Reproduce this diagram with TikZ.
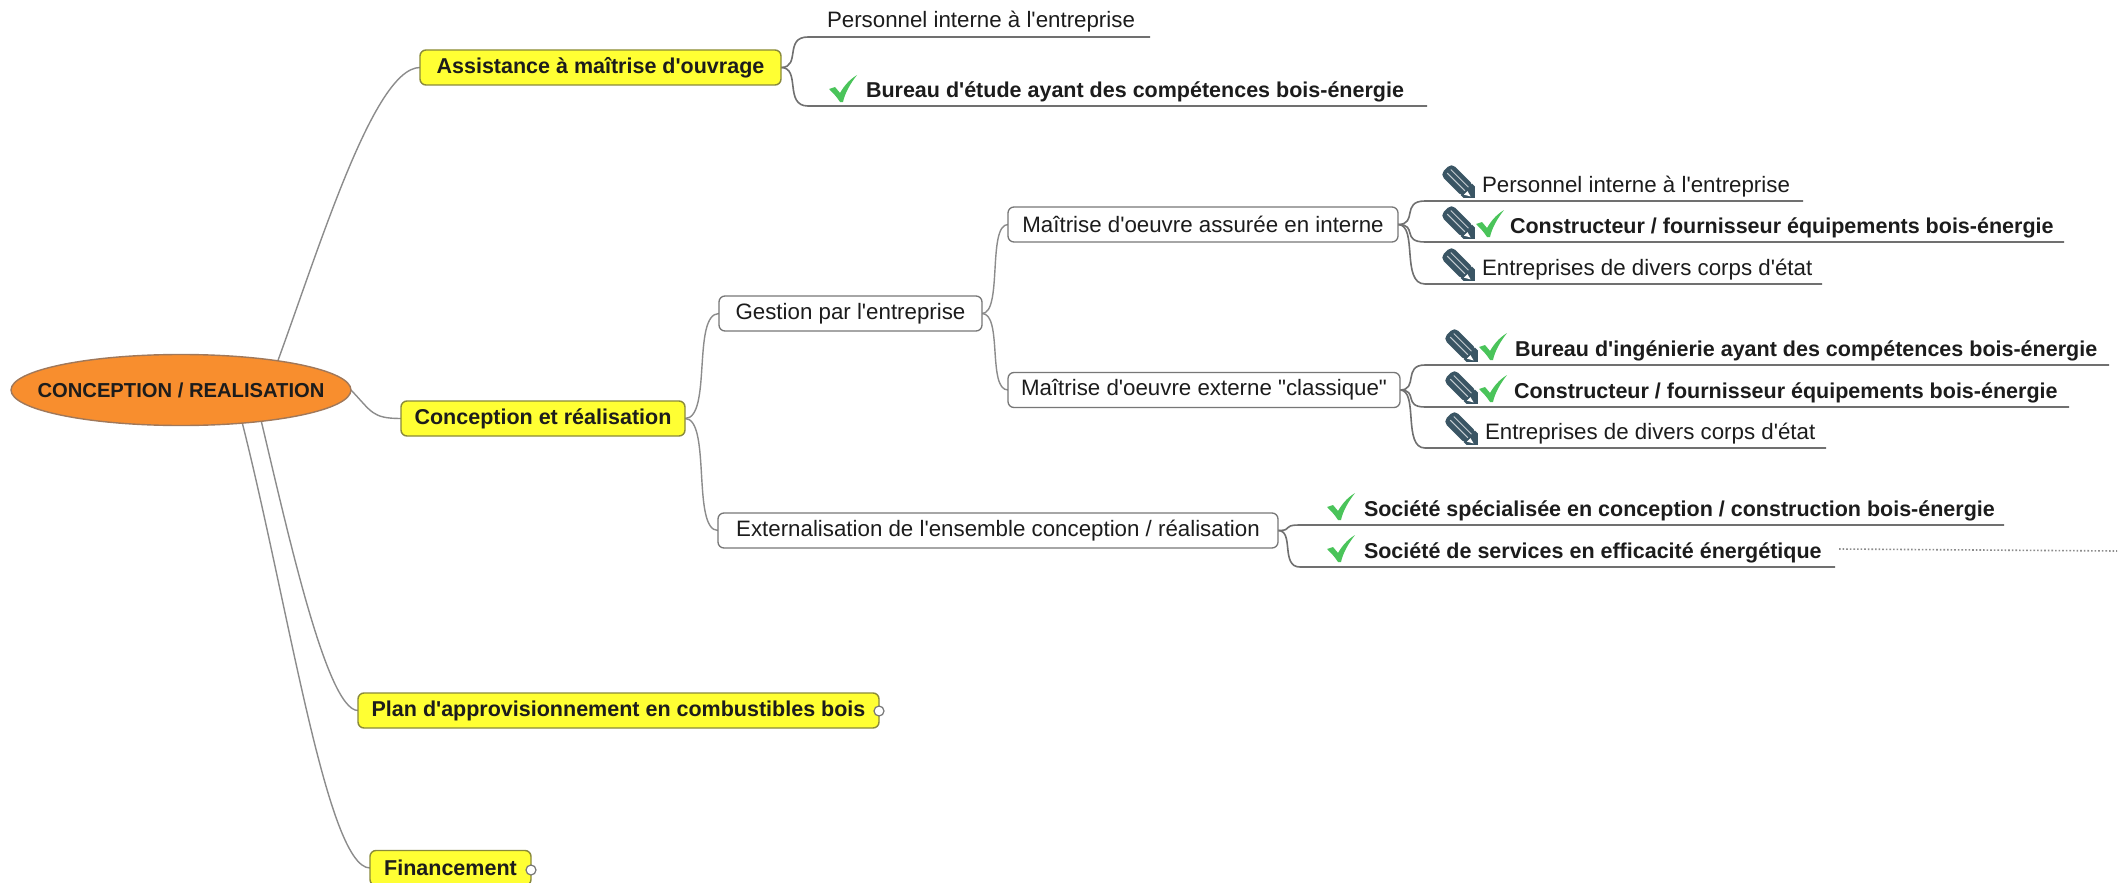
\documentclass[tikz,border=0pt]{standalone}
\usepackage{fontspec}
\newfontfamily\arl{Liberation Sans}
\usetikzlibrary{calc,backgrounds,shapes.geometric}
\definecolor{ybf}{HTML}{FFFF33}
\definecolor{ybd}{HTML}{8A8A3A}
\definecolor{orf}{HTML}{F88E2E}
\definecolor{ord}{HTML}{A0785A}
\definecolor{cnn}{HTML}{8C8C8C}
\definecolor{uln}{HTML}{707070}
\definecolor{gbd}{HTML}{777777}
\definecolor{grn}{HTML}{4AC45A}
\definecolor{clp}{HTML}{3A5564}
\definecolor{txt}{HTML}{1C1C1C}
\tikzset{
  x=1pt,y=-1pt,
  regfont/.style={font=\arl\fontsize{22.3}{24}\selectfont,text=txt},
  bldfont/.style={font=\arl\fontsize{21.5}{24}\selectfont\bfseries,text=txt},
  ybox/.style={bldfont,draw=ybd,fill=ybf,rounded corners=6pt,line width=1.4pt,minimum height=35pt,inner sep=0pt,outer sep=0pt},
  wbox/.style={regfont,draw=gbd,fill=white,rounded corners=6pt,line width=1.3pt,minimum height=35pt,inner sep=0pt,outer sep=0pt},
  rootnode/.style={ellipse,font=\arl\fontsize{20.2}{24}\selectfont\bfseries,text=txt,draw=ord,fill=orf,line width=1.4pt,minimum width=340pt,minimum height=71pt,inner sep=0pt,outer sep=0pt},
  leafnode/.style={inner xsep=0pt,inner ysep=5pt,outer sep=0pt,text height=18pt,text depth=4pt,anchor=south west},
  fold/.style={circle,draw=gbd,fill=white,line width=1.2pt,minimum size=10pt,inner sep=0pt,outer sep=0pt},
  cnx/.style={draw=cnn,line width=1.4pt},
  ula/.style={draw=uln,line width=1.6pt},
  chk/.pic={\fill[grn] (-14,0) -- (-8,-2) -- (-3,4) .. controls (1,-3) and (6,-9) .. (14,-14) .. controls (7,-5) and (2,4) .. (0,13) -- (-3,13) .. controls (-6,8) and (-10,4) .. (-14,0) -- cycle;},
  clip/.pic={\begin{scope}[rotate=-45]
     \fill[clp,rounded corners=5pt] (-20,-8) -- (12,-8) -- (12,8) -- (-20,8) -- cycle;
     \fill[clp] (9,-8) -- (13,-8) -- (21,0) -- (13,8) -- (9,8) -- cycle;
     \fill[white] (11,0.5) -- (17,2) -- (11,5.5) -- cycle;
     \draw[white!70!clp,line width=1pt] (-16,-3) -- (9,-3);
     \draw[white!70!clp,line width=1pt] (-16,2) -- (9,2);
  \end{scope}},
}
% name, start x, end x, line y, text x, text
\newcommand{\leafrow}[6]{%
  \pgfmathsetlengthmacro{\lw}{#3-#2}%
  \pgfmathsetlengthmacro{\lp}{#5-#2}%
  \node[leafnode,text width=\lw] (#1) at (#2,#4) {\noindent\hspace*{\lp}\mbox{\spaceskip=0pt\relax\xspaceskip=0pt\relax #6}};%
}
\newcommand{\regl}{\arl\fontsize{22.3}{24}\selectfont\color{txt}}
\newcommand{\bldl}{\arl\fontsize{21.5}{24}\selectfont\bfseries\color{txt}}
\newcommand{\cnnct}[2]{%
  \draw[cnx] let \p1=(#1),\p2=(#2),\n1={\x2-\x1} in
    (\p1) .. controls (\x1+0.8*\n1,\y1) and (\x1+0.2*\n1,\y2) .. (\p2);%
}
\newcommand{\leafcnx}[2]{%
  \draw[ula] let \p1=(#1.east),\p2=(#2.south west),\n1={\x2-\x1} in
    (\p1) .. controls (\x1+0.75*\n1,\y1) and (\x1+0.1*\n1,\y2) .. (\p2) -- (#2.south east);%
}
\begin{document}
\begin{tikzpicture}
\useasboundingbox (0,0) rectangle (2121,883);

\node[rootnode] (root) at (181,390) {\makebox[200pt][c]{CONCEPTION / REALISATION}};
\coordinate (rsa) at (265,395);
\coordinate (rsp) at (255,395);
\coordinate (rsf) at (235,395);

\node[ybox,minimum width=361pt] (a) at (600.5,67.5) {Assistance à maîtrise d'ouvrage};
\node[ybox,minimum width=284pt] (cr) at (543,418.5) {Conception et réalisation};
\node[ybox,minimum width=521pt] (plan) at (618.5,710.5) {Plan d'approvisionnement en combustibles bois};
\node[ybox,minimum width=161pt] (fin) at (450.5,868) {Financement};
\node[fold] (planf) at (879,711) {};
\node[fold] (finf) at (531,870) {};

\node[wbox,minimum width=263pt] (ges) at (850.5,313.5) {Gestion par l'entreprise};
\node[wbox,minimum width=390pt] (mint) at (1203,224.5) {Maîtrise d'oeuvre assurée en interne};
\node[wbox,minimum width=392pt] (mext) at (1204,390) {Maîtrise d'oeuvre externe "classique"};
\node[wbox,minimum width=560pt] (ext) at (998,530.5) {Externalisation de l'ensemble conception / réalisation};

\leafrow{la1}{808}{1150}{37}{827}{\regl Personnel interne à l'entreprise}
\leafrow{la2}{808}{1427}{106}{866}{\bldl Bureau d'étude ayant des compétences bois-énergie}
\leafrow{li1}{1425}{1803}{201}{1482}{\regl Personnel interne à l'entreprise}
\leafrow{li2}{1425}{2064}{242}{1510}{\bldl Constructeur / fournisseur équipements bois-énergie}
\leafrow{li3}{1425}{1822}{284}{1482}{\regl Entreprises de divers corps d'état}
\leafrow{le1}{1425}{2109}{365}{1515}{\bldl Bureau d'ingénierie ayant des compétences bois-énergie}
\leafrow{le2}{1425}{2069}{407}{1514}{\bldl Constructeur / fournisseur équipements bois-énergie}
\leafrow{le3}{1425}{1826}{448}{1485}{\regl Entreprises de divers corps d'état}
\leafrow{ls1}{1300}{2004}{525}{1364}{\bldl Société spécialisée en conception / construction bois-énergie}
\leafrow{ls2}{1300}{1835}{567}{1364}{\bldl Société de services en efficacité énergétique}
\coordinate (dotend) at (2117,551);

\pic at (843,89) {chk};
\pic at (1490,224) {chk};
\pic at (1493,347) {chk};
\pic at (1493,389) {chk};
\pic at (1341,507) {chk};
\pic at (1341,549) {chk};
\pic at (1460,183) {clip};
\pic at (1460,224) {clip};
\pic at (1460,266) {clip};
\pic at (1463,347) {clip};
\pic at (1463,389) {clip};
\pic at (1463,430) {clip};

\begin{pgfonlayer}{background}
\fill[white] (0,0) rectangle (2121,883);
\draw[cnx] (rsa) .. controls (310,280) and (370,67.5) .. (a.west);
\draw[cnx] (rsp) .. controls (283,510) and (325,710.5) .. (plan.west);
\draw[cnx] (rsf) .. controls (285,580) and (325,868) .. (fin.west);
\draw[cnx] (root.east) .. controls (372,412) and (372,418.5) .. (cr.west);
\cnnct{cr.east}{ges.west}
\cnnct{cr.east}{ext.west}
\cnnct{ges.east}{mint.west}
\cnnct{ges.east}{mext.west}
\leafcnx{a}{la1}
\leafcnx{a}{la2}
\leafcnx{mint}{li1}
\leafcnx{mint}{li2}
\leafcnx{mint}{li3}
\leafcnx{mext}{le1}
\leafcnx{mext}{le2}
\leafcnx{mext}{le3}
\leafcnx{ext}{ls1}
\leafcnx{ext}{ls2}
\draw[draw=cnn,line width=1.6pt,dotted] (ls2.east) ++(4,-2) -- (dotend);
\end{pgfonlayer}
\end{tikzpicture}
\end{document}
